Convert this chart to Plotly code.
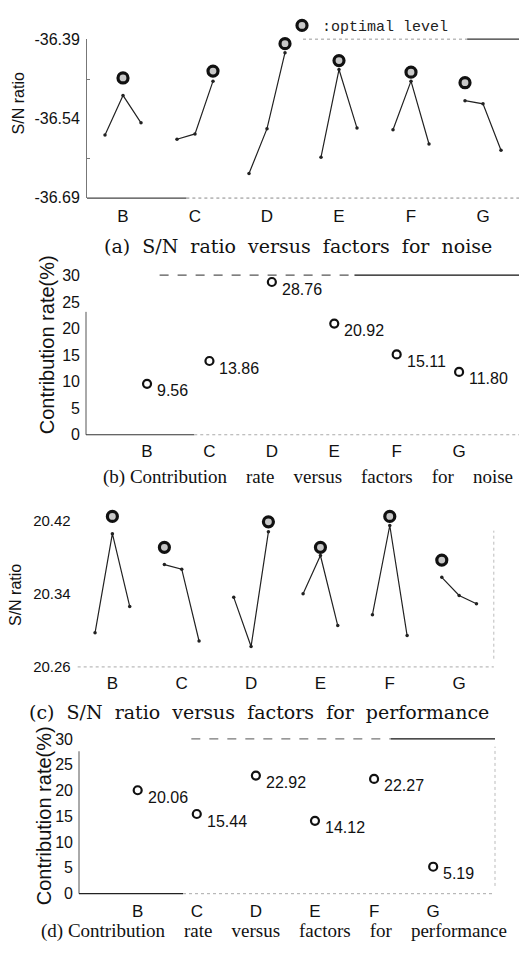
import plotly.graph_objects as go

# ---------------- data ----------------
factors = ["B", "C", "D", "E", "F", "G"]

# (a) S/N ratio for noise, levels 1-3 of each factor
sn_noise_l1 = [-36.571, -36.579, -36.644, -36.613, -36.561, -36.506]
sn_noise_l2 = [-36.496, -36.569, -36.559, -36.447, -36.469, -36.512]
sn_noise_l3 = [-36.548, -36.469, -36.415, -36.558, -36.588, -36.600]
opt_noise_marker = [-36.463, -36.450, -36.398, -36.430, -36.452, -36.472]

# (b) contribution rate for noise (%)
contrib_noise = [9.56, 13.86, 28.76, 20.92, 15.11, 11.80]

# (c) S/N ratio for performance
sn_perf_l1 = [20.297, 20.372, 20.336, 20.340, 20.317, 20.358]
sn_perf_l2 = [20.406, 20.367, 20.282, 20.382, 20.415, 20.338]
sn_perf_l3 = [20.326, 20.288, 20.408, 20.305, 20.294, 20.329]
opt_perf_marker = [20.425, 20.391, 20.419, 20.391, 20.425, 20.377]

# (d) contribution rate for performance (%)
contrib_perf = [20.06, 15.44, 22.92, 14.12, 22.27, 5.19]

G2 = "\u00a0\u00a0"
G4 = "\u00a0\u00a0\u00a0\u00a0"
captions = [
    G2.join(["(a)", "S/N", "ratio", "versus", "factors", "for", "noise"]),
    "(b) " + G4.join(["Contribution", "rate", "versus", "factors", "for", "noise"]),
    G2.join(["(c)", "S/N", "ratio", "versus", "factors", "for", "performance"]),
    "(d) " + G4.join(["Contribution", "rate", "versus", "factors", "for", "performance"]),
]
caption_fonts = ["DejaVu Serif, serif", "Liberation Serif, serif",
                 "DejaVu Serif, serif", "Liberation Serif, serif"]

W, H = 519, 959
SANS = "Liberation Sans, Arial, sans-serif"
MONO = "Liberation Mono, Courier New, monospace"


def px_x(p):
    return p / W


def px_y(p):
    return 1 - p / H


def level_lines(l1, l2, l3):
    xs, ys = [], []
    for i in range(len(factors)):
        c = 4 * (i + 1)
        xs += [c - 1, c, c + 1, None]
        ys += [l1[i], l2[i], l3[i], None]
    return xs, ys


def optimal_x(l1, l2, l3):
    xs = []
    for i in range(len(factors)):
        vals = [l1[i], l2[i], l3[i]]
        k = vals.index(max(vals))
        xs.append(4 * (i + 1) + k - 1)
    return xs


OPT_MARKER = dict(symbol="circle", size=10, color="#c8c8c8", line=dict(color="#111", width=3.2))

fig = go.Figure()

# ---- panel (a)
xa, ya = level_lines(sn_noise_l1, sn_noise_l2, sn_noise_l3)
fig.add_trace(go.Scatter(x=xa, y=ya, mode="lines+markers", xaxis="x", yaxis="y",
                         line=dict(color="#222", width=1.2),
                         marker=dict(size=3.5, color="#222"), showlegend=False,
                         cliponaxis=False))
fig.add_trace(go.Scatter(x=optimal_x(sn_noise_l1, sn_noise_l2, sn_noise_l3), y=opt_noise_marker,
                         mode="markers", xaxis="x", yaxis="y", name=":optimal level",
                         marker=OPT_MARKER, showlegend=True, cliponaxis=False))

# ---- panel (b)
xb = [i + 1 for i in range(len(factors))]
fig.add_trace(go.Scatter(x=xb, y=contrib_noise, mode="markers", xaxis="x2", yaxis="y2",
                         marker=dict(symbol="circle-open", size=8, color="#111",
                                     line=dict(width=2.2)), showlegend=False,
                         cliponaxis=False))

# ---- panel (c)
xc, yc = level_lines(sn_perf_l1, sn_perf_l2, sn_perf_l3)
fig.add_trace(go.Scatter(x=xc, y=yc, mode="lines+markers", xaxis="x3", yaxis="y3",
                         line=dict(color="#222", width=1.2),
                         marker=dict(size=3.5, color="#222"), showlegend=False,
                         cliponaxis=False))
fig.add_trace(go.Scatter(x=optimal_x(sn_perf_l1, sn_perf_l2, sn_perf_l3), y=opt_perf_marker,
                         mode="markers", xaxis="x3", yaxis="y3",
                         marker=OPT_MARKER, showlegend=False, cliponaxis=False))

# ---- panel (d)
fig.add_trace(go.Scatter(x=xb, y=contrib_perf, mode="markers", xaxis="x4", yaxis="y4",
                         marker=dict(symbol="circle-open", size=8, color="#111",
                                     line=dict(width=2.2)), showlegend=False,
                         cliponaxis=False))

annotations = []
for xr, yr, vals in (("x2", "y2", contrib_noise), ("x4", "y4", contrib_perf)):
    for i, v in enumerate(vals):
        annotations.append(dict(x=i + 1, y=v, xref=xr, yref=yr, text=f"{v:.2f}",
                                showarrow=False, xanchor="left", yanchor="middle",
                                xshift=8, yshift=-7,
                                font=dict(family=SANS, size=16, color="#111")))

# y titles
for text, cx, cy, size in (("S/N ratio", 18, 97, 16),
                           ("Contribution rate(%)", 47, 343, 20),
                           ("S/N ratio", 15, 597, 16),
                           ("Contribution rate(%)", 44, 822, 20)):
    annotations.append(dict(x=px_x(cx), y=px_y(cy), xref="paper", yref="paper", text=text,
                            textangle=-90, showarrow=False, xanchor="center", yanchor="middle",
                            font=dict(family=SANS, size=size, color="#111")))

# captions
for text, fam, cx, cy in zip(captions, caption_fonts, (298, 308, 259, 274), (242, 477, 716, 939)):
    annotations.append(dict(x=px_x(cx), y=px_y(cy), xref="paper", yref="paper", text=text,
                            showarrow=False, xanchor="center", yanchor="middle",
                            font=dict(family=fam, size=19, color="#111")))

common_x = dict(showgrid=False, zeroline=False, showline=False, ticks="",
                tickfont=dict(family=SANS, size=17, color="#111"), fixedrange=True)
common_y = dict(showgrid=False, zeroline=False, ticks="",
                tickfont=dict(family=SANS, size=16, color="#111"), fixedrange=True)

tick_text_a = [f"{v:.2f}" for v in (-36.69, -36.54, -36.39)]
tick_text_c = [f"{v:.2f}" for v in (20.26, 20.34, 20.42)]
contrib_ticks = [0, 5, 10, 15, 20, 25, 30]

# panel c: range extended above 20.42 so that the optimal markers stay visible
c_top_px = 521.7 - (20.44 - 20.42) * 927.5

layout = dict(
    width=W, height=H, margin=dict(l=0, r=0, t=0, b=0),
    paper_bgcolor="white", plot_bgcolor="white",
    showlegend=True,
    legend=dict(x=px_x(282), y=px_y(18), xanchor="left", yanchor="middle",
                bgcolor="rgba(0,0,0,0)", borderwidth=0,
                font=dict(family=MONO, size=15, color="#222")),
    xaxis=dict(common_x, domain=[px_x(87), 1.0], range=[2, 26], anchor="y",
               tickvals=[4 * (i + 1) for i in range(6)], ticktext=factors,
               ticklabelstandoff=6),
    yaxis=dict(common_y, domain=[px_y(193.3), px_y(31.7)], range=[-36.6905, -36.3895],
               anchor="x", tickvals=[-36.69, -36.54, -36.39], ticktext=tick_text_a,
               showline=True, linecolor="#777", linewidth=1, ticklabelstandoff=3,
               minor=dict(tickvals=[-36.615, -36.465], ticks="inside", ticklen=3,
                          tickcolor="#777")),
    xaxis2=dict(common_x, domain=[px_x(86), 1.0], range=[0.022, 6.96], anchor="y2",
                tickvals=xb, ticktext=factors, ticklabelstandoff=4),
    yaxis2=dict(common_y, domain=[px_y(434), px_y(271.7)], range=[-0.05, 30.05],
                anchor="x2", tickvals=contrib_ticks, ticktext=[str(v) for v in contrib_ticks],
                showline=False, ticklabelstandoff=5),
    xaxis3=dict(common_x, domain=[px_x(77.7), px_x(493.8)], range=[2, 26], anchor="y3",
                tickvals=[4 * (i + 1) for i in range(6)], ticktext=factors,
                ticklabelstandoff=4),
    yaxis3=dict(common_y, domain=[px_y(670.1), px_y(c_top_px)], range=[20.2595, 20.44],
                anchor="x3", tickvals=[20.26, 20.34, 20.42], ticktext=tick_text_c,
                showline=False, ticklabelstandoff=6,
                tickfont=dict(family=SANS, size=15, color="#111")),
    xaxis4=dict(common_x, domain=[px_x(79), px_x(495)], range=[0.007, 7.046], anchor="y4",
                tickvals=xb, ticktext=factors, ticklabelstandoff=5),
    yaxis4=dict(common_y, domain=[px_y(900.7), px_y(743.3)], range=[-0.05, 30.05],
                anchor="x4", tickvals=contrib_ticks, ticktext=[str(v) for v in contrib_ticks],
                showline=False, ticklabelstandoff=5),
    annotations=annotations,
)


def seg(xref, yref, x0, x1, y, color="#333", width=1, dash="solid"):
    return dict(type="line", xref=f"{xref} domain", yref=f"{yref} domain",
                x0=x0, x1=x1, y0=y, y1=y, line=dict(color=color, width=width, dash=dash))


def vseg(xref, yref, x, y0, y1, color="#555", width=1, dash="solid"):
    return dict(type="line", xref=f"{xref} domain", yref=f"{yref} domain",
                x0=x, x1=x, y0=y0, y1=y1, line=dict(color=color, width=width, dash=dash))


shapes = [
    # panel a frame remnants
    seg("x", "y", 0, 0.23, 0, "#444", 1.2),
    seg("x", "y", 0.23, 1, 0, "#888", 1, "dot"),
    seg("x", "y", 0.50, 0.88, 1, "#999", 1, "dot"),
    seg("x", "y", 0.88, 1, 1, "#333", 1.2),
    # panel b
    vseg("x2", "y2", 0, 0, 0.77, "#555", 1),
    seg("x2", "y2", 0, 0.25, 0, "#333", 1.2),
    seg("x2", "y2", 0.25, 1, 0, "#aaa", 1, "dot"),
    seg("x2", "y2", 0.17, 0.62, 1, "#555", 1.2, "dash"),
    seg("x2", "y2", 0.62, 1, 1, "#111", 1.2),
    # panel c
    seg("x3", "y3", 0, 1, 0, "#aaa", 1, "dot"),
    vseg("x3", "y3", 1, 0.05, 0.83, "#bbb", 1, "dot"),
    # panel d
    vseg("x4", "y4", 0, 0, 0.92, "#555", 1),
    seg("x4", "y4", 0, 0.25, 0, "#222", 1.4),
    seg("x4", "y4", 0.25, 1, 0, "#aaa", 1, "dot"),
    seg("x4", "y4", 0.27, 0.75, 1, "#777", 1.2, "dash"),
    seg("x4", "y4", 0.75, 1, 1, "#111", 1.2),
    vseg("x4", "y4", 1, 0.05, 0.95, "#bbb", 1, "dot"),
]
layout["shapes"] = shapes

fig.update_layout(**layout)
fig.write_html("out.html", config={"displayModeBar": False},
               post_script="document.body.style.margin='0';document.body.style.overflow='hidden';")
